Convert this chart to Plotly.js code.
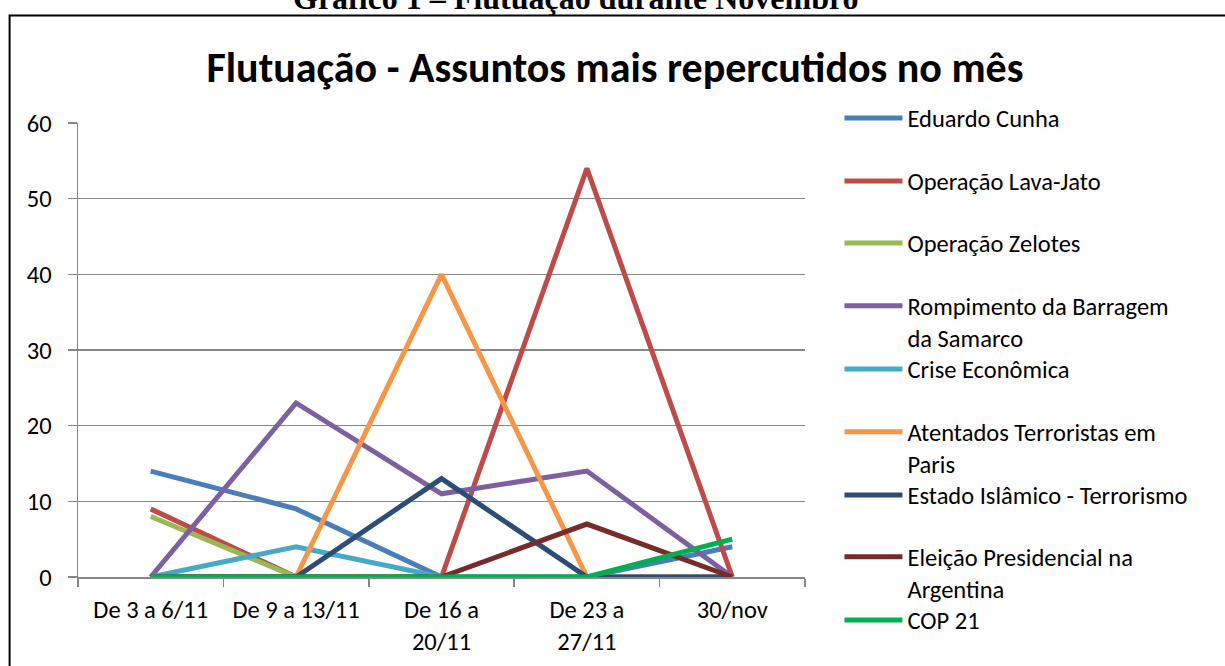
<!DOCTYPE html>
<html>
<head>
<meta charset="utf-8">
<script src="https://cdn.plot.ly/plotly-3.0.1.min.js"></script>
<style>
  html, body { margin: 0; padding: 0; background: #ffffff; }
  #chart { width: 1225px; height: 666px; }
</style>
</head>
<body>
<div id="chart"></div>
<script>
// ---- data ----
var categories = ["De 3 a 6/11", "De 9 a 13/11", "De 16 a<br>20/11", "De 23 a<br>27/11", "30/nov"];

var seriesNames = [
  "Eduardo Cunha",
  "Operação Lava-Jato",
  "Operação Zelotes",
  "Rompimento da Barragem<br>da Samarco",
  "Crise Econômica",
  "Atentados Terroristas em<br>Paris",
  "Estado Islâmico - Terrorismo",
  "Eleição Presidencial na<br>Argentina",
  "COP 21"
];

var eduardoCunha   = [14, 9, 0, 0, 4];
var lavaJato       = [9, 0, 0, 54, 0];
var zelotes        = [8, 0, 0, 0, 0];
var samarco        = [0, 23, 11, 14, 0];
var criseEconomica = [0, 4, 0, 0, 0];
var atentadosParis = [0, 0, 40, 0, 0];
var estadoIslamico = [0, 0, 13, 0, 0];
var eleicaoArgent  = [0, 0, 0, 7, 0];
var cop21          = [0, 0, 0, 0, 5];

var seriesValues = [eduardoCunha, lavaJato, zelotes, samarco, criseEconomica,
                    atentadosParis, estadoIslamico, eleicaoArgent, cop21];

var colors = ["#4A7EBB", "#BE4B48", "#98B954", "#7D60A0", "#46AAC5",
              "#F79646", "#2C4D75", "#772C2A", "#00B050"];

var yTicks = [0, 10, 20, 30, 40, 50, 60];

// ---- layout geometry (pixels) ----
var W = 1225, H = 666;
var L = 77.5, R = 805.5, T = 123, B = 577;
function px2x(px) { return (px - L) / (R - L); }
function px2y(py) { return (B - py) / (B - T); }

var FONT = "Carlito, Lato, 'Open Sans', sans-serif";
var FS = 24.5;

var legendY = [118, 181, 243, 306, 369, 432, 495, 557, 620];

var traces = [];
var layout = {
  width: W, height: H,
  margin: { l: L, r: W - R, t: T, b: H - B, pad: 0 },
  paper_bgcolor: "#ffffff",
  plot_bgcolor: "#ffffff",
  font: { family: FONT, size: FS, color: "#000000" },
  title: {
    text: "<b>Flutuação - Assuntos mais repercutidos no mês</b>",
    font: { family: FONT, size: 42, color: "#000000" },
    xref: "container", yref: "container",
    x: 615 / W, xanchor: "center",
    y: 1 - 67 / H, yanchor: "middle"
  },
  xaxis: {
    type: "category",
    tickvals: categories,
    ticktext: categories,
    range: [-0.5, categories.length - 0.5],
    showline: true, linecolor: "#868686", linewidth: 1.5,
    showgrid: false, zeroline: false,
    ticks: "outside", tickson: "boundaries", ticklen: 8,
    tickcolor: "#868686", tickwidth: 1.5,
    ticklabelstandoff: 10,
    tickfont: { family: FONT, size: FS, color: "#000000" },
    fixedrange: true
  },
  yaxis: {
    range: [0, 60],
    tickvals: yTicks,
    showline: true, linecolor: "#868686", linewidth: 1.5,
    showgrid: true, gridcolor: "#868686", gridwidth: 1.5,
    zeroline: false,
    ticks: "outside", ticklen: 9, tickcolor: "#868686", tickwidth: 1.5,
    ticklabelstandoff: 11,
    tickfont: { family: FONT, size: FS, color: "#000000" },
    fixedrange: true
  },
  shapes: [{
    type: "rect", xref: "paper", yref: "paper",
    x0: px2x(9), x1: px2x(1232), y0: px2y(15.5), y1: px2y(700),
    line: { color: "#000000", width: 2 }, fillcolor: "rgba(0,0,0,0)", layer: "below"
  }],
  annotations: [{
    text: "<b>Gráfico 1 – Flutuação durante Novembro</b>",
    xref: "paper", yref: "paper",
    x: px2x(576), y: px2y(-2), xanchor: "center", yanchor: "middle",
    showarrow: false,
    font: { family: "'Liberation Serif', 'Times New Roman', serif", size: 32, color: "#000000" }
  }],
  showlegend: true
};

for (var i = 0; i < seriesValues.length; i++) {
  var legId = i === 0 ? "legend" : "legend" + (i + 1);
  var name = seriesNames[i];
  if (name.indexOf("<br>") >= 0) name = "\u00a0<br>" + name;
  traces.push({
    type: "scatter", mode: "lines",
    x: categories, y: seriesValues[i],
    name: name,
    legend: legId,
    line: { color: colors[i], width: 5 },
    hoverinfo: "skip"
  });
  layout[legId] = {
    x: px2x(840), xanchor: "left",
    y: px2y(legendY[i]), yanchor: "middle",
    bgcolor: "rgba(0,0,0,0)", borderwidth: 0,
    itemwidth: 58,
    font: { family: FONT, size: FS, color: "#000000" }
  };
}

Plotly.newPlot("chart", traces, layout, { displayModeBar: false, staticPlot: true });
</script>
</body>
</html>
